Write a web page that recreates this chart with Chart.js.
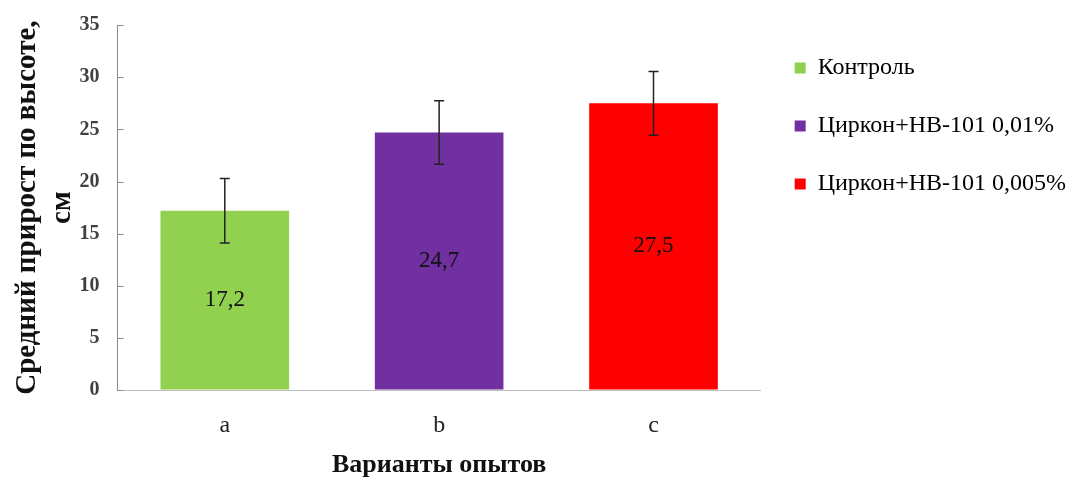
<!DOCTYPE html>
<html><head><meta charset="utf-8">
<script src="https://cdn.jsdelivr.net/npm/chart.js@4"></script>
<style>html,body{margin:0;padding:0;background:#fff}#wrap{width:1072px;height:487px}</style>
</head><body><div id="wrap"><canvas id="c"></canvas></div>
<script>
const categories = ['a', 'b', 'c'];
const seriesNames = ['Контроль', 'Циркон+НВ-101 0,01%', 'Циркон+НВ-101 0,005%'];
const values = [17.2, 24.7, 27.5];
const errors = [3.1, 3.05, 3.05];
const colors = ['#92D050', '#7030A0', '#FF0000'];
const yTicks = [0, 5, 10, 15, 20, 25, 30, 35];

const serif = "'Liberation Serif','Times New Roman',serif";

const innerTicks = {
  id: 'innerTicks',
  afterDraw(chart) {
    const ctx = chart.ctx, y = chart.scales.y;
    ctx.save();
    ctx.strokeStyle = '#8C8C8C';
    ctx.lineWidth = 1;
    y.ticks.forEach(t => {
      const py = Math.round(y.getPixelForValue(t.value)) + 0.5;
      ctx.beginPath();
      ctx.moveTo(y.right, py);
      ctx.lineTo(y.right + 6, py);
      ctx.stroke();
    });
    ctx.restore();
  }
};

const errorBars = {
  id: 'errorBars',
  afterDatasetsDraw(chart) {
    const ctx = chart.ctx, y = chart.scales.y;
    const meta = chart.getDatasetMeta(0);
    ctx.save();
    ctx.strokeStyle = '#222';
    ctx.lineWidth = 1.5;
    meta.data.forEach((bar, i) => {
      const top = y.getPixelForValue(values[i] + errors[i]);
      const bot = y.getPixelForValue(values[i] - errors[i]);
      ctx.beginPath();
      ctx.moveTo(bar.x, top); ctx.lineTo(bar.x, bot);
      ctx.moveTo(bar.x - 5, top); ctx.lineTo(bar.x + 5, top);
      ctx.moveTo(bar.x - 5, bot); ctx.lineTo(bar.x + 5, bot);
      ctx.stroke();
    });
    ctx.restore();
  }
};

const barLabels = {
  id: 'barLabels',
  afterDatasetsDraw(chart) {
    const ctx = chart.ctx;
    const meta = chart.getDatasetMeta(0);
    ctx.save();
    ctx.fillStyle = '#111';
    ctx.font = '23px ' + serif;
    ctx.textAlign = 'center';
    ctx.textBaseline = 'middle';
    meta.data.forEach((bar, i) => {
      ctx.fillText(String(values[i]).replace('.', ','), bar.x, (bar.y + bar.base) / 2);
    });
    ctx.restore();
  }
};

new Chart(document.getElementById('c'), {
  type: 'bar',
  data: {
    labels: categories,
    datasets: [{ data: values, backgroundColor: colors, categoryPercentage: 0.6, barPercentage: 1.0 }]
  },
  options: {
    responsive: true,
    maintainAspectRatio: false,
    animation: false,
    layout: { padding: { top: 22, left: 10, right: -4, bottom: 6 } },
    plugins: {
      tooltip: { enabled: false },
      legend: {
        position: 'right',
        align: 'start',
        maxWidth: 330,
        labels: {
          font: { family: serif, size: 24 },
          color: '#111',
          boxWidth: 11,
          boxHeight: 11,
          padding: 34,
          generateLabels: () => seriesNames.map((n, i) => ({
            text: n, fillStyle: colors[i], strokeStyle: colors[i], lineWidth: 0, hidden: false, index: i
          }))
        },
        onClick: () => {}
      }
    },
    scales: {
      x: {
        grid: { display: false, drawTicks: false },
        border: { color: '#BFBFBF' },
        ticks: { font: { family: serif, size: 24 }, color: '#222', padding: 21 },
        title: { display: true, text: 'Варианты опытов', font: { family: serif, size: 26, weight: 'bold' }, color: '#111', padding: { top: -11, bottom: 0 } }
      },
      y: {
        min: 0, max: 35,
        afterBuildTicks: (s) => { s.ticks = yTicks.map(v => ({ value: v })); },
        grid: { drawOnChartArea: false, drawTicks: false },
        border: { color: '#8C8C8C' },
        ticks: { font: { family: serif, size: 20, weight: 'bold', lineHeight: 0.72 }, color: '#404040', padding: 18 },
        title: { display: true, text: ['Средний прирост по высоте,', 'см'], font: { family: serif, size: 29, weight: 'bold', lineHeight: 1.2 }, color: '#111', padding: { top: 0, bottom: -18 } }
      }
    }
  },
  plugins: [errorBars, barLabels, innerTicks]
});
</script></body></html>
